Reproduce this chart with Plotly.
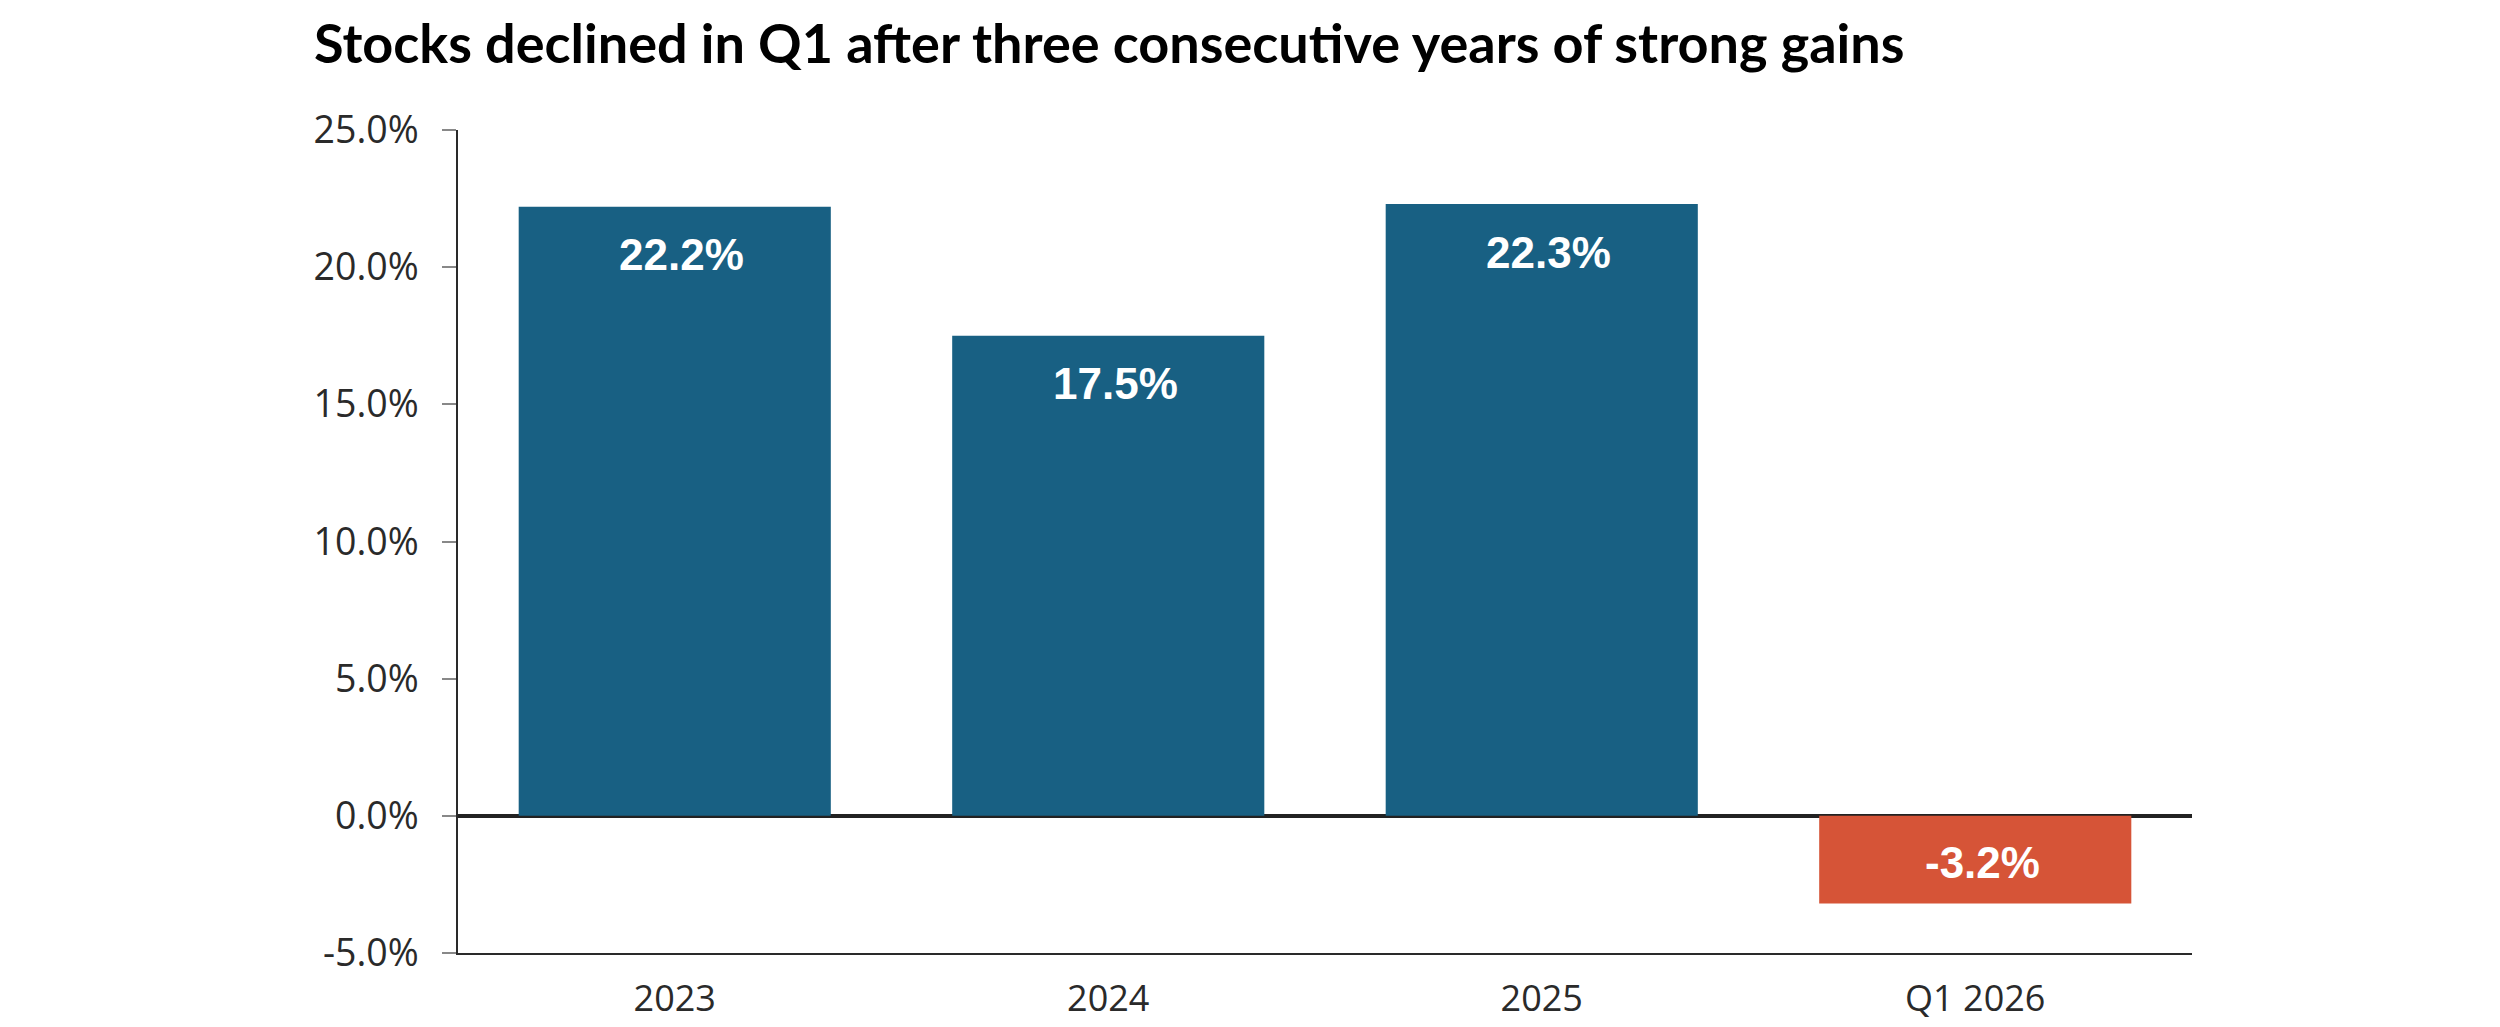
import plotly.graph_objects as go

categories = ["2023", "2024", "2025", "Q1 2026"]
values = [22.2, 17.5, 22.3, -3.2]
labels = ["22.2%", "17.5%", "22.3%", "-3.2%"]
tick_vals = [-5, 0, 5, 10, 15, 20, 25]
tick_text = ["-5.0%", "0.0%", "5.0%", "10.0%", "15.0%", "20.0%", "25.0%"]
title_text = "Stocks declined in Q1 after three consecutive years of strong gains"

BLUE = "#186083"
RED = "#D65437"
colors = [BLUE if v >= 0 else RED for v in values]

# page body has an 8px margin, so the figure is sized to fill the rest
W, H = 2492, 1019

fig = go.Figure()
fig.add_trace(go.Bar(
    x=categories, y=values, width=0.72,
    marker=dict(color=colors, line=dict(width=0)),
    hoverinfo="skip",
))

for i, (v, t) in enumerate(zip(values, labels)):
    fig.add_annotation(
        x=i, y=v, text=t, showarrow=False,
        xshift=7,
        yshift=-48 if v >= 0 else 41,
        font=dict(family="Liberation Sans, Arial", size=44, color="white", weight="bold"),
        xanchor="center", yanchor="middle",
    )

fig.update_layout(
    template="none",
    width=W, height=H,
    margin=dict(l=450, r=308, t=122, b=74, autoexpand=False),
    paper_bgcolor="white", plot_bgcolor="white",
    showlegend=False,
    title=dict(
        text=title_text,
        font=dict(family="Lato", size=54, color="black", weight="bold"),
        xref="container", x=306 / W, xanchor="left",
        yref="container", y=1 - 36 / H, yanchor="middle",
    ),
    xaxis=dict(
        type="category",
        automargin=False,
        range=[-0.5, len(categories) - 0.5],
        showline=True, linecolor="#2a2a2a", linewidth=2,
        showgrid=False, ticks="", zeroline=False,
        tickfont=dict(family="Open Sans", size=36, color="#2a2a2a"),
        ticklabelstandoff=13,
    ),
    yaxis=dict(
        automargin=False,
        range=[-5, 25],
        tickvals=tick_vals, ticktext=tick_text,
        showline=True, linecolor="#2a2a2a", linewidth=1.5,
        showgrid=False,
        ticks="outside", ticklen=14, tickcolor="#888888", tickwidth=1.5,
        tickfont=dict(family="Open Sans", size=37.5, color="#2a2a2a"),
        ticklabelstandoff=16,
        zeroline=True, zerolinecolor="#222222", zerolinewidth=3.5,
        layer="above traces",
    ),
)

fig.write_html("out.html")
